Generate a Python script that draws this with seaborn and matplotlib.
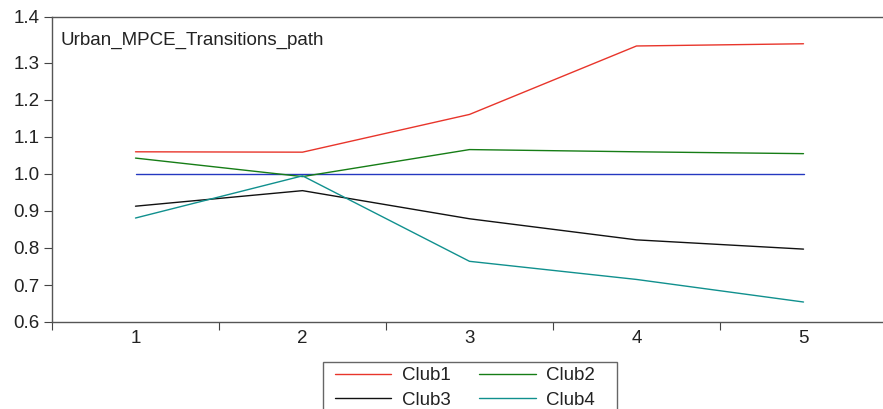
import matplotlib
matplotlib.use("Agg")
import matplotlib.pyplot as plt
import matplotlib.patches as mpatches
import seaborn as sns
import numpy as np
import pandas as pd

# values
periods = [1, 2, 3, 4, 5]
club1 = [1.060, 1.059, 1.161, 1.346, 1.352]
club2 = [1.043, 0.993, 1.066, 1.060, 1.055]
club3 = [0.913, 0.955, 0.879, 0.822, 0.797]
club4 = [0.881, 0.995, 0.764, 0.715, 0.654]
baseline = [1.0, 1.0, 1.0, 1.0, 1.0]
club_names = ["Club1", "Club2", "Club3", "Club4"]
ytick_vals = [0.6, 0.7, 0.8, 0.9, 1.0, 1.1, 1.2, 1.3]
ytick_labels = ["0.6", "0.7", "0.8", "0.9", "1.0", "1.1", "1.2", "1.3", "1.4"]
title_text = "Urban_MPCE_Transitions_path"

colors = {"Club1": "#e8352b", "Club2": "#167d16", "Club3": "#111111", "Club4": "#10908e"}

df = pd.DataFrame({
    "period": periods * 4,
    "value": club1 + club2 + club3 + club4,
    "club": sum([[c] * len(periods) for c in club_names], []),
})

sns.set_style("white")
plt.rcParams["font.family"] = ["Liberation Sans", "DejaVu Sans"]
fs = 13.5

W, H = 883, 409
fig = plt.figure(figsize=(W / 100, H / 100), dpi=100)
left, top, bottom = 52, 17, 322
ax = fig.add_axes([left / W, 1 - bottom / H, 835 / W, (bottom - top) / H])

ax.plot(periods, baseline, color="#2438c0", lw=1.0)
sns.lineplot(data=df, x="period", y="value", hue="club", palette=colors,
             lw=1.0, ax=ax, legend=False)

ax.set_xlim(0.5, 5.5)
ytop = 0.6 + (bottom - top) / 370
ax.set_ylim(0.6, ytop)
ax.set_yticks(ytick_vals + [ytop])
ax.set_yticklabels(ytick_labels)
ax.set_xticks(periods)
ax.set_xticklabels([str(p) for p in periods])
ax.set_xticks(np.arange(0.5, 6, 1.0), minor=True)
ax.tick_params(axis="x", which="major", bottom=True, length=0, pad=6, labelsize=fs, colors="#222222")
ax.tick_params(axis="x", which="minor", bottom=True, length=6, width=0.8, direction="out", color="#444444")
ax.tick_params(axis="y", left=True, length=6, width=0.8, direction="out", color="#444444",
               labelsize=fs, labelcolor="#222222", pad=3)
ax.set_xlabel("")
ax.set_ylabel("")

for s in ["top", "bottom", "left"]:
    ax.spines[s].set_color("#555555")
    ax.spines[s].set_linewidth(1.0)
ax.spines["right"].set_visible(False)

ax.text(8 / 835, 1 - (40 - top) / (bottom - top), title_text, transform=ax.transAxes,
        ha="left", va="center", fontsize=fs, color="#222222")

# legend fills column by column, so order for rows Club1 Club2 / Club3 Club4
order = ["Club1", "Club3", "Club2", "Club4"]
handles = [plt.Line2D([], [], color=colors[c], lw=1.0) for c in order]
leg = fig.legend(handles, order, loc="upper left", ncol=2,
                 bbox_to_anchor=(335 / W, 1 - 367 / H), frameon=False,
                 fontsize=fs, handlelength=3.0, handletextpad=0.55, columnspacing=1.55,
                 labelspacing=0.4, borderpad=0, borderaxespad=0)
for t in leg.get_texts():
    t.set_color("#222222")

# legend box, cut off by the bottom edge like in the reference
fig.patches.append(mpatches.Rectangle((323 / W, -0.1), 294 / W, 0.1 + 1 - 362 / H,
                                      transform=fig.transFigure, fill=False,
                                      edgecolor="#666666", lw=1.0))

fig.savefig("out.png", dpi=100)
